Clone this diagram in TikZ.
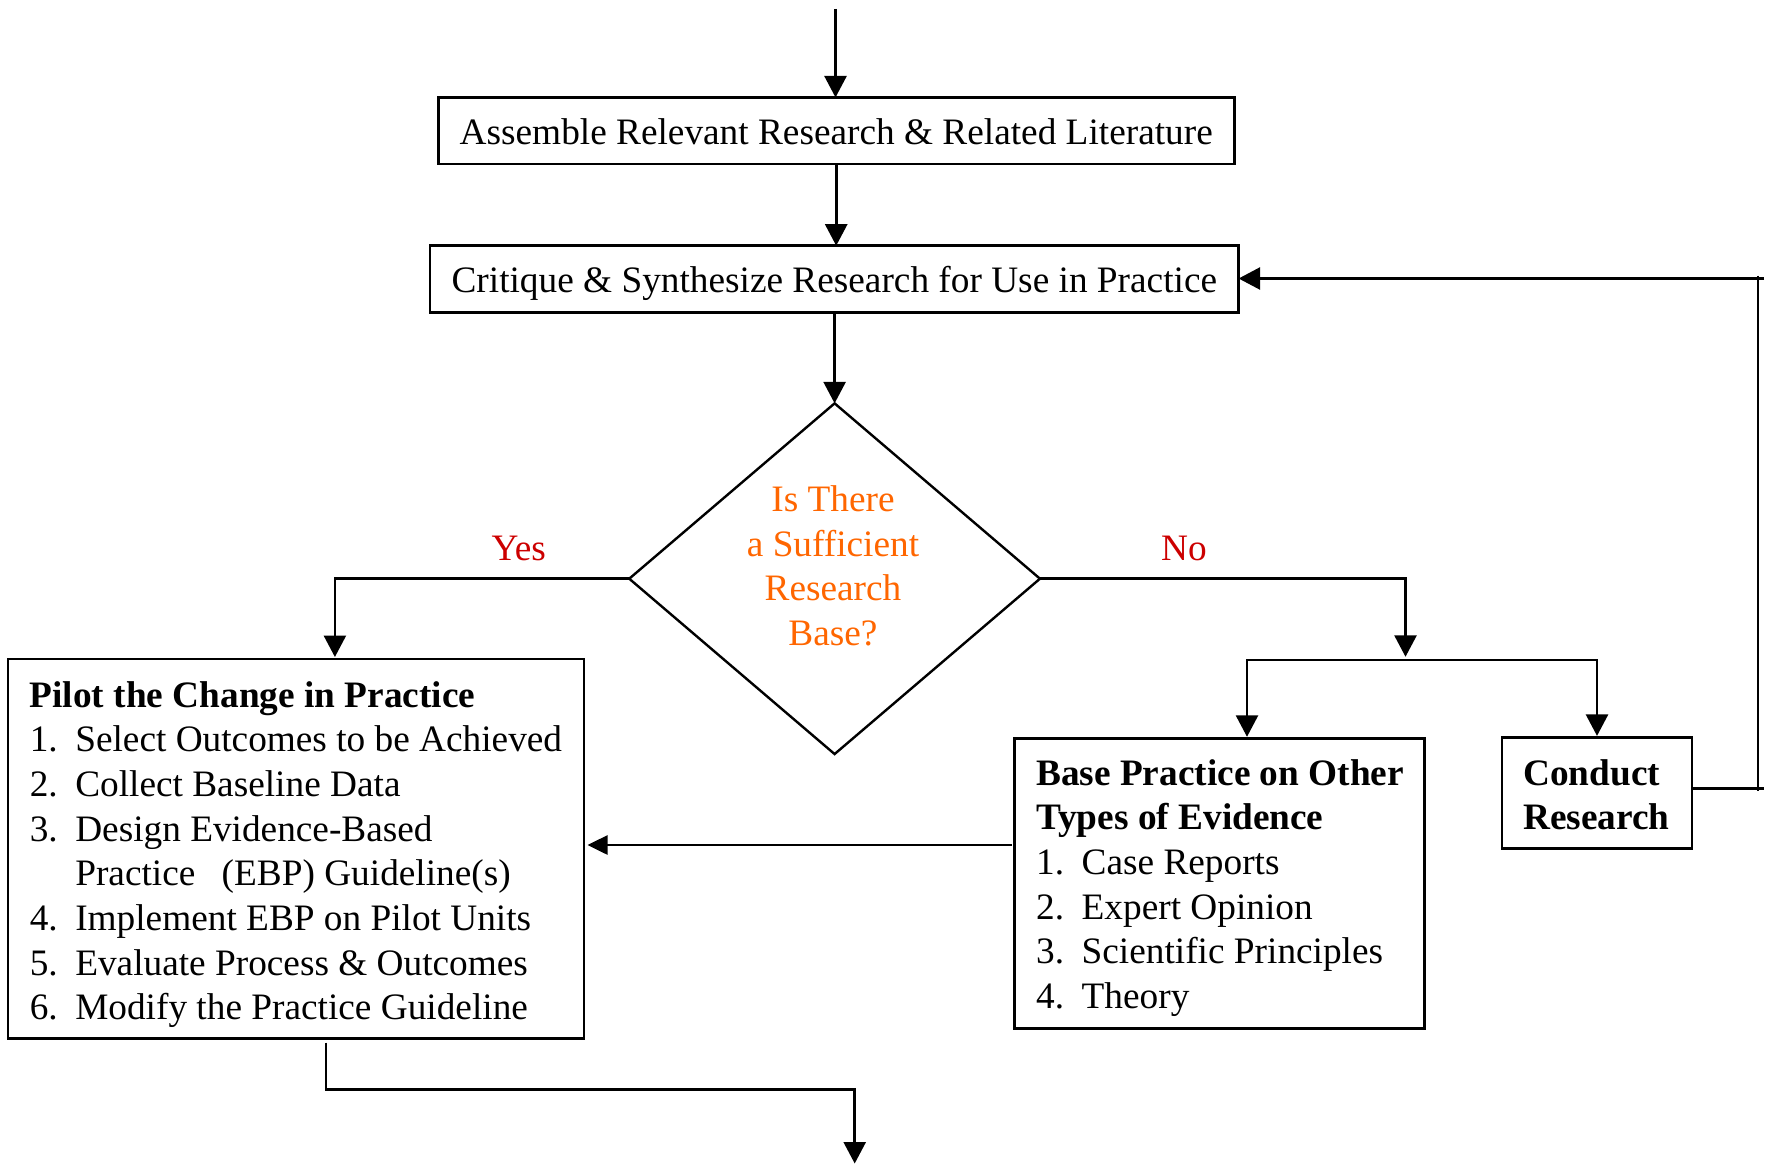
\documentclass[tikz,border=0pt]{standalone}
\usepackage{fontspec}
\setmainfont{Liberation Serif}
\usetikzlibrary{arrows.meta,shapes.geometric}
\definecolor{labelred}{RGB}{204,0,0}
\definecolor{queryorange}{RGB}{255,102,0}
\newcommand\bodysize{\fontsize{37.3}{44.7}\selectfont}
\newcommand\itemno[1]{\makebox[45.5pt][l]{#1}}

\begin{document}
\begin{tikzpicture}[x=1pt,y=-1pt,
  frame/.style={draw, line width=2.8pt, inner sep=0pt, outer sep=0pt},
  conn/.style={line width=2.6pt},
  arr/.style={conn, -{Triangle[length=21.5pt,width=22pt]}},
  txt/.style={font=\bodysize, inner sep=0pt, anchor=base west},
  boxtext/.style={font=\bodysize, text height=27pt, text depth=0pt}
]
\useasboundingbox (0,0) rectangle (1768,1164);

% process boxes at the top
\node[frame, boxtext, minimum width=796pt, minimum height=66.5pt] (assemble) at (836.2,130.7)
  {Assemble Relevant Research \& Related Literature};
\node[frame, boxtext, minimum width=808.6pt, minimum height=66.6pt] (critique) at (834.3,279)
  {Critique \& Synthesize Research for Use in Practice};

% decision
\node[diamond, draw, line width=2.4pt, inner sep=0pt, outer sep=0pt,
      minimum width=410.7pt, minimum height=350.7pt] (query) at (834.6,578.7) {};
\node[txt, anchor=base, text=queryorange] (querytext) at (833,511.5)
  {\begin{tabular}[t]{@{}c@{}}Is There\\a Sufficient\\Research\\Base?\end{tabular}};
\node[txt, anchor=base, text=labelred] (yes) at (518.7,560) {Yes};
\node[txt, anchor=base, text=labelred] (no) at (1184,560) {No};

% pilot box
\node[frame, anchor=north west, minimum width=576pt, minimum height=379.6pt] (pilot) at (8,659) {};
\node[txt] (pilottext) at (29.6,707)
  {\begin{tabular}[t]{@{}l@{}}
   \textbf{Pilot the Change in Practice}\\
   \itemno{1.}Select Outcomes to be Achieved\\
   \itemno{2.}Collect Baseline Data\\
   \itemno{3.}Design Evidence-Based\\
   \hspace{45.5pt}Practice\hspace{17pt} (EBP) Guideline(s)\\
   \itemno{4.}Implement EBP on Pilot Units\\
   \itemno{5.}Evaluate Process \& Outcomes\\
   \itemno{6.}Modify the Practice Guideline
   \end{tabular}};

% other evidence box
\node[frame, anchor=north west, minimum width=410pt, minimum height=290pt] (base) at (1014.5,738.3) {};
\node[txt] (basetext) at (1036,785)
  {\begin{tabular}[t]{@{}l@{}}
   \textbf{Base Practice on Other}\\
   \textbf{Types of Evidence}\\
   \itemno{1.}Case Reports\\
   \itemno{2.}Expert Opinion\\
   \itemno{3.}Scientific Principles\\
   \itemno{4.}Theory
   \end{tabular}};

% conduct research box
\node[frame, anchor=north west, minimum width=190pt, minimum height=111pt] (conduct) at (1502,737.4) {};
\node[txt] (conducttext) at (1523,785)
  {\begin{tabular}[t]{@{}l@{}}\textbf{Conduct}\\\textbf{Research}\end{tabular}};

% connectors
\coordinate (entry) at (835.5,9);
\draw[arr] (entry) -- (entry |- assemble.north);
\draw[arr] (assemble.south) -- (assemble.south |- critique.north);
\draw[arr] (critique.south -| query.north) -- (query.north);

\coordinate (yesdrop) at (334.9,657);
\draw[arr] (query.west) -| (yesdrop);
\coordinate (fork) at (1405.5,659.8);
\draw[arr] (query.east) -| ([yshift=3pt]fork);
\draw[arr, shorten >=1.5pt] (fork) -| ([xshift=27.5pt]base.north);
\draw[arr, shorten >=1.5pt] (fork) -| (conduct.north);

\draw[conn, -{Triangle[length=20pt,width=19pt]}, shorten >=3.5pt, shorten <=3pt]
  ([yshift=38.3pt]base.west) -- ([yshift=38.3pt]base.west -| pilot.east);

% feedback loop back to the critique step
\coordinate (fbtop) at (1758,278.5);
\coordinate (fbbot) at (1758,788.2);
\draw[conn] (fbbot -| conduct.east) -- ([xshift=6pt]fbbot);
\draw[conn] ([yshift=3pt]fbtop) -- ([yshift=-3pt]fbbot);
\draw[arr] ([xshift=6pt]fbtop) -- (fbtop -| critique.east);

% exit
\coordinate (exitbend) at (325.9,1089.3);
\coordinate (exit) at (854.7,1163.5);
\draw[arr] ([xshift=29.9pt,yshift=-4pt]pilot.south) -- (exitbend) -| (exit);
\end{tikzpicture}
\end{document}
